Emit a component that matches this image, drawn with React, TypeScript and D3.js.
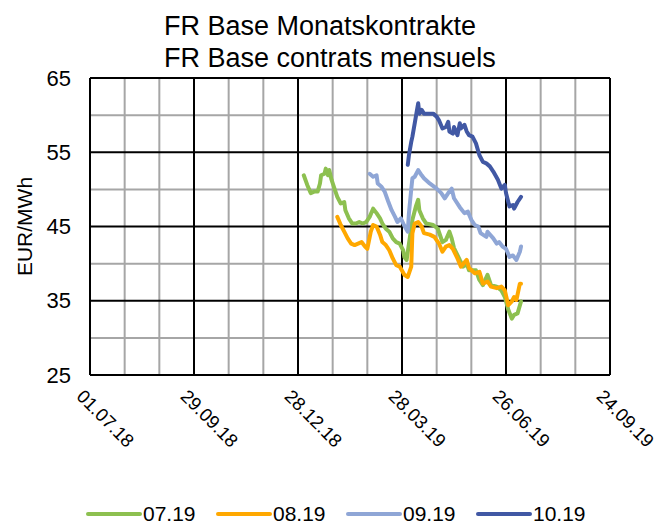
import * as d3 from "d3";

const seriesNames = ["07.19", "08.19", "09.19", "10.19"];
const seriesColors = ["#8DC050", "#FFA800", "#8FA6D6", "#4158A4"];

const jul19: [string, number][] = [
  ["2019-01-02", 51.9], ["2019-01-05", 50.6], ["2019-01-08", 49.5], ["2019-01-11", 49.7],
  ["2019-01-14", 49.7], ["2019-01-16", 50.8], ["2019-01-17", 51.9], ["2019-01-20", 52.1],
  ["2019-01-21", 52.8], ["2019-01-23", 51.9], ["2019-01-24", 52.6], ["2019-01-26", 51.3],
  ["2019-01-29", 49.9], ["2019-01-31", 49.0], ["2019-02-03", 48.1], ["2019-02-06", 48.3],
  ["2019-02-07", 47.2], ["2019-02-10", 46.1], ["2019-02-13", 45.4], ["2019-02-16", 45.4],
  ["2019-02-19", 45.6], ["2019-02-22", 45.4], ["2019-02-25", 45.6], ["2019-02-28", 46.3],
  ["2019-03-03", 47.4], ["2019-03-06", 46.8], ["2019-03-09", 46.1], ["2019-03-11", 45.4],
  ["2019-03-14", 44.7], ["2019-03-17", 44.3], ["2019-03-20", 43.4], ["2019-03-23", 42.9],
  ["2019-03-26", 42.7], ["2019-03-29", 41.8], ["2019-03-30", 40.9], ["2019-04-01", 40.5],
  ["2019-04-06", 45.9], ["2019-04-09", 47.7], ["2019-04-11", 48.6], ["2019-04-12", 47.2],
  ["2019-04-15", 46.1], ["2019-04-18", 45.4], ["2019-04-24", 45.2], ["2019-04-28", 44.7],
  ["2019-05-02", 42.9], ["2019-05-05", 43.2], ["2019-05-08", 44.3], ["2019-05-10", 43.4],
  ["2019-05-12", 42.1], ["2019-05-17", 40.5], ["2019-05-20", 39.6], ["2019-05-23", 40.0],
  ["2019-05-25", 39.1], ["2019-05-31", 39.1], ["2019-06-03", 37.8], ["2019-06-06", 37.1],
  ["2019-06-10", 38.5], ["2019-06-13", 37.1], ["2019-06-18", 36.9], ["2019-06-22", 36.4],
  ["2019-06-25", 35.5], ["2019-06-28", 33.8], ["2019-07-01", 32.6], ["2019-07-03", 33.1],
  ["2019-07-06", 33.3], ["2019-07-09", 34.9],
];

const aug19: [string, number][] = [
  ["2019-01-31", 46.3], ["2019-02-03", 45.2], ["2019-02-06", 44.3], ["2019-02-09", 43.4],
  ["2019-02-12", 42.7], ["2019-02-15", 42.5], ["2019-02-18", 42.7], ["2019-02-21", 42.9],
  ["2019-02-24", 42.3], ["2019-02-26", 42.0], ["2019-03-01", 44.3], ["2019-03-03", 45.2],
  ["2019-03-06", 45.0], ["2019-03-09", 43.9], ["2019-03-11", 42.9], ["2019-03-14", 42.5],
  ["2019-03-17", 41.8], ["2019-03-20", 40.7], ["2019-03-23", 39.8], ["2019-03-26", 39.6],
  ["2019-03-30", 38.5], ["2019-04-02", 38.2], ["2019-04-05", 39.6], ["2019-04-06", 44.1],
  ["2019-04-08", 45.4], ["2019-04-11", 45.6], ["2019-04-14", 45.0], ["2019-04-16", 44.1],
  ["2019-04-21", 43.9], ["2019-04-25", 43.6], ["2019-04-29", 42.7], ["2019-05-02", 41.6],
  ["2019-05-05", 42.3], ["2019-05-08", 42.5], ["2019-05-11", 42.0], ["2019-05-15", 40.7],
  ["2019-05-18", 39.6], ["2019-05-23", 40.5], ["2019-05-25", 39.4], ["2019-05-30", 38.7],
  ["2019-06-03", 38.9], ["2019-06-06", 37.3], ["2019-06-10", 37.6], ["2019-06-13", 36.9],
  ["2019-06-18", 36.7], ["2019-06-22", 36.9], ["2019-06-25", 36.4], ["2019-06-28", 34.4],
  ["2019-07-01", 34.9], ["2019-07-03", 35.5], ["2019-07-05", 35.1], ["2019-07-08", 37.3],
  ["2019-07-09", 37.3],
];

const sep19: [string, number][] = [
  ["2019-02-28", 52.1], ["2019-03-03", 51.7], ["2019-03-06", 51.9], ["2019-03-07", 50.8],
  ["2019-03-10", 50.4], ["2019-03-13", 49.7], ["2019-03-16", 48.4], ["2019-03-19", 47.2],
  ["2019-03-22", 46.3], ["2019-03-24", 45.6], ["2019-03-27", 46.1], ["2019-03-30", 45.1],
  ["2019-04-02", 44.3], ["2019-04-03", 46.8], ["2019-04-05", 50.0], ["2019-04-06", 51.5],
  ["2019-04-08", 51.7], ["2019-04-11", 52.6], ["2019-04-14", 51.9], ["2019-04-16", 51.5],
  ["2019-04-21", 50.8], ["2019-04-27", 50.1], ["2019-05-01", 49.5], ["2019-05-04", 48.8],
  ["2019-05-07", 49.5], ["2019-05-10", 50.1], ["2019-05-12", 48.8], ["2019-05-17", 47.6],
  ["2019-05-21", 46.8], ["2019-05-24", 47.0], ["2019-05-27", 45.9], ["2019-05-30", 45.2],
  ["2019-06-02", 45.0], ["2019-06-04", 44.1], ["2019-06-09", 43.6], ["2019-06-10", 44.3],
  ["2019-06-15", 43.4], ["2019-06-18", 42.7], ["2019-06-20", 42.9], ["2019-06-23", 42.3],
  ["2019-06-26", 42.0], ["2019-06-29", 40.9], ["2019-07-02", 41.1], ["2019-07-05", 40.5],
  ["2019-07-08", 41.6], ["2019-07-09", 42.3],
];

const oct19: [string, number][] = [
  ["2019-04-02", 53.3], ["2019-04-03", 54.6], ["2019-04-05", 56.4], ["2019-04-06", 57.1],
  ["2019-04-08", 58.9], ["2019-04-10", 60.7], ["2019-04-11", 61.6], ["2019-04-12", 60.2],
  ["2019-04-14", 60.7], ["2019-04-16", 60.2], ["2019-04-21", 60.2], ["2019-04-24", 60.2],
  ["2019-04-27", 59.8], ["2019-04-29", 59.3], ["2019-05-02", 58.2], ["2019-05-05", 58.4],
  ["2019-05-07", 59.1], ["2019-05-08", 57.8], ["2019-05-11", 57.5], ["2019-05-12", 58.4],
  ["2019-05-15", 57.3], ["2019-05-17", 58.9], ["2019-05-18", 58.2], ["2019-05-21", 58.7],
  ["2019-05-23", 57.8], ["2019-05-25", 57.3], ["2019-05-28", 57.1], ["2019-05-31", 56.2],
  ["2019-06-03", 54.6], ["2019-06-06", 53.7], ["2019-06-09", 53.5], ["2019-06-12", 53.1],
  ["2019-06-15", 52.4], ["2019-06-19", 51.3], ["2019-06-22", 50.1], ["2019-06-25", 50.6],
  ["2019-06-26", 49.5], ["2019-06-29", 47.7], ["2019-07-02", 47.9], ["2019-07-03", 47.4],
  ["2019-07-06", 48.3], ["2019-07-09", 49.0],
];

const allSeries = [jul19, aug19, sep19, oct19];

const xTickLabels = ["01.07.18", "29.09.18", "28.12.18", "28.03.19", "26.06.19", "24.09.19"];
const yMajorTicks = [25, 35, 45, 55, 65];
const yMinorTicks = [30, 40, 50, 60];

const width = 661;
const height = 525;
const marginLeft = 90;
const marginRight = 51;
const marginTop = 78;
const marginBottom = 150;

const parse = d3.timeParse("%Y-%m-%d");
const parseLabel = d3.timeParse("%d.%m.%y");

const App = () => {
  const start = parseLabel(xTickLabels[0]) as Date;
  const end = parseLabel(xTickLabels[xTickLabels.length - 1]) as Date;

  const x = d3
    .scaleTime()
    .domain([start, end])
    .range([marginLeft, width - marginRight]);

  const y = d3
    .scaleLinear()
    .domain([25, 65])
    .range([height - marginBottom, marginTop]);

  // minor vertical grid every 30 days, major every 90
  const minorDates = d3.timeDay.range(start, d3.timeDay.offset(end, 1), 30);
  const majorDates = xTickLabels.map((s) => parseLabel(s) as Date);

  const line = d3
    .line<[string, number]>()
    .x((d) => x(parse(d[0]) as Date))
    .y((d) => y(d[1]));

  const font = "Arial, 'Liberation Sans', sans-serif";
  const legendX = [88, 218, 348, 478];

  return (
    <svg
      width={width}
      height={height}
      style={{ position: "absolute", left: 0, top: 0, background: "#fff" }}
      fontFamily={font}
    >
      <text x={164} y={35} fontSize={27}>FR Base Monatskontrakte</text>
      <text x={164} y={67} fontSize={27}>FR Base contrats mensuels</text>

      {minorDates.map((d, i) => (
        <line key={"vx" + i} x1={x(d)} x2={x(d)} y1={y(25)} y2={y(65)} stroke="#A6A6A6" strokeWidth={2} />
      ))}
      {yMinorTicks.map((v) => (
        <line key={"hy" + v} x1={marginLeft} x2={width - marginRight} y1={y(v)} y2={y(v)} stroke="#A6A6A6" strokeWidth={2} />
      ))}
      {majorDates.map((d, i) => (
        <line key={"VX" + i} x1={x(d)} x2={x(d)} y1={y(25)} y2={y(65)} stroke="#000" strokeWidth={2} />
      ))}
      {yMajorTicks.map((v) => (
        <line key={"HY" + v} x1={marginLeft} x2={width - marginRight} y1={y(v)} y2={y(v)} stroke="#000" strokeWidth={2} />
      ))}

      {yMajorTicks.map((v) => (
        <text key={"yl" + v} x={marginLeft - 19} y={y(v)} dy="0.35em" textAnchor="end" fontSize={22}>
          {v}
        </text>
      ))}
      <text
        transform={`translate(32,${y(45)}) rotate(-90)`}
        textAnchor="middle"
        fontSize={21}
      >
        EUR/MWh
      </text>

      {majorDates.map((d, i) => (
        <text
          key={"xl" + i}
          transform={`translate(${x(d) - 8},${y(25) + 16}) rotate(45)`}
          fontSize={18.5}
          dy="0.5em"
        >
          {xTickLabels[i]}
        </text>
      ))}

      {allSeries.map((s, i) => (
        <path
          key={seriesNames[i]}
          d={line(s) as string}
          fill="none"
          stroke={seriesColors[i]}
          strokeWidth={4}
          strokeLinejoin="round"
          strokeLinecap="round"
        />
      ))}

      {seriesNames.map((n, i) => (
        <g key={"lg" + n} transform={`translate(${legendX[i]},514)`}>
          <line x1={0} x2={52} y1={0} y2={0} stroke={seriesColors[i]} strokeWidth={4} strokeLinecap="round" />
          <text x={55} y={0} dy="0.35em" fontSize={21}>{n}</text>
        </g>
      ))}
    </svg>
  );
};

export default App;
